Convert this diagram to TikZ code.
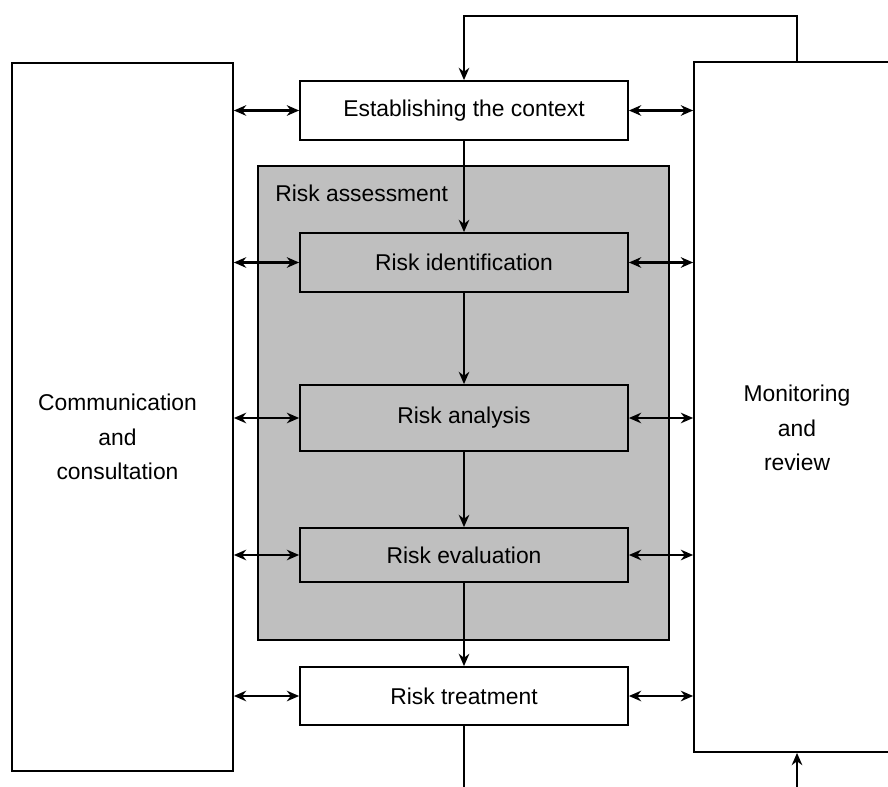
\documentclass[tikz,border=0pt]{standalone}
\usepackage{fontspec}
\setmainfont{Liberation Sans}
\usepackage{xcolor}
\usepackage{tikz}
\usetikzlibrary{arrows,arrows.meta,positioning}

\begin{document}
\begin{tikzpicture}[>={Stealth[length=7pt,width=6pt]}, font=\fontsize{13}{19.7}\selectfont,
		sidebox/.style={draw, line width=1pt, fill=white},
		stepbox/.style={draw, line width=1pt, fill=white, minimum width=6.56cm, align=center},
		link/.style={<->, line width=1.6pt},
		flow/.style={->, line width=1.4pt}]
		\useasboundingbox (0,0) rectangle (17.76,-15.74);
		\clip (0,0) rectangle (17.76,-15.74);
		\node[sidebox, minimum width=4.42cm, minimum height=14.16cm] (comm) at (2.45,-8.34) {};
		\node[align=center] (commtext) at (2.35,-8.74) {Communication\\and\\consultation};
		\node[sidebox, minimum width=4.12cm, minimum height=13.8cm] (monitor) at (15.94,-8.14) {};
		\node[align=center] (montext) at (15.94,-8.56) {Monitoring\\and\\review};
		\node[draw, line width=1pt, fill=black!25, minimum width=8.22cm, minimum height=9.48cm] (assess) at (9.27,-8.06) {};
		\node[anchor=west, inner sep=0pt] (assesslabel) at (5.5,-3.86) {Risk assessment};
		\node[stepbox, minimum height=1.18cm] (ctx) at (9.28,-2.21) {Establishing the context};
		\node[stepbox, fill=black!25, minimum height=1.18cm] (ident) at (9.28,-5.25) {Risk identification};
		\node[stepbox, fill=black!25, minimum height=1.32cm] (analysis) at (9.28,-8.36) {Risk analysis};
		\node[stepbox, fill=black!25, minimum height=1.08cm] (eval) at (9.28,-11.1) {Risk evaluation};
		\node[stepbox, minimum height=1.16cm] (treat) at (9.28,-13.92) {Risk treatment};
		\coordinate (looptop) at (9.28,-0.32);
		\coordinate (loopbottom) at (9.28,-16.2);
		\draw[link] (comm.east |- ctx.west) -- (ctx.west);
		\draw[link] (comm.east |- ident.west) -- (ident.west);
		\draw[link] (comm.east |- analysis.west) -- (analysis.west);
		\draw[link] (comm.east |- eval.west) -- (eval.west);
		\draw[link] (comm.east |- treat.west) -- (treat.west);
		\draw[link] (ctx.east) -- (monitor.west |- ctx.east);
		\draw[link] (ident.east) -- (monitor.west |- ident.east);
		\draw[link] (analysis.east) -- (monitor.west |- analysis.east);
		\draw[link] (eval.east) -- (monitor.west |- eval.east);
		\draw[link] (treat.east) -- (monitor.west |- treat.east);
		\draw[flow] (ctx) -- (ident);
		\draw[flow] (ident) -- (analysis);
		\draw[flow] (analysis) -- (eval);
		\draw[flow] (eval) -- (treat);
		\draw[flow] (monitor.north) |- (looptop) -- (ctx.north);
		\draw[flow] (treat.south) -- (loopbottom) -| (monitor.south);
	\end{tikzpicture}
\end{document}
